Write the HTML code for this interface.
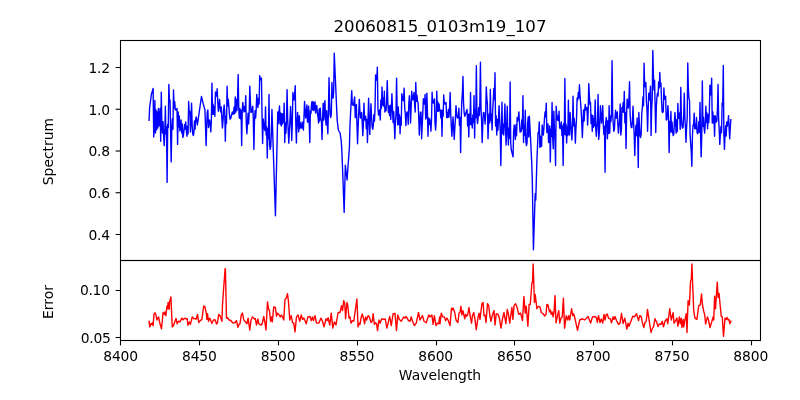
<!DOCTYPE html><html><head><meta charset="utf-8"><title>20060815_0103m19_107</title>
<style>html,body{margin:0;padding:0;background:#fff}svg{display:block}text{font-family:"DejaVu Sans","Liberation Sans",sans-serif;fill:#000}</style></head><body>
<svg width="800" height="400" viewBox="0 0 800 400">
<rect width="800" height="400" fill="#fff"/>
<defs><clipPath id="c1"><rect x="120" y="40" width="640" height="220"/></clipPath><clipPath id="c2"><rect x="120" y="260" width="640" height="80"/></clipPath></defs>
<polyline clip-path="url(#c1)" fill="none" stroke="#0000ff" stroke-width="1.39" stroke-linejoin="round" stroke-linecap="butt" points="149.05,121.00 149.63,107.50 150.21,103.13 150.80,98.77 151.38,94.40 151.96,92.43 152.54,90.47 153.13,88.50 153.71,136.90 154.29,126.58 154.87,100.50 155.46,133.00 156.04,110.00 156.62,130.00 157.20,112.00 157.79,128.00 158.37,108.50 158.95,126.00 159.53,118.17 160.12,108.50 160.70,141.25 161.28,92.25 161.86,124.22 162.45,133.05 163.03,121.59 163.61,135.66 164.19,145.60 164.77,132.95 165.36,106.25 165.94,134.05 166.52,127.02 167.10,182.40 167.69,124.12 168.27,127.62 168.85,84.40 169.43,100.03 170.02,100.00 170.60,130.72 171.18,161.90 171.76,129.20 172.35,118.65 172.93,129.38 173.51,90.00 174.09,108.09 174.68,101.59 175.26,109.73 175.84,110.00 176.42,109.25 177.01,108.50 177.59,144.40 178.17,112.00 178.75,127.00 179.33,116.00 179.92,131.00 180.50,126.66 181.08,120.00 181.66,133.00 182.25,124.00 182.83,137.50 183.41,135.80 183.99,130.12 184.58,124.40 185.16,129.00 185.74,122.00 186.32,130.29 186.91,136.25 187.49,126.30 188.07,133.92 188.65,101.50 189.24,111.84 189.82,111.25 190.40,132.00 190.98,122.13 191.57,103.10 192.15,124.93 192.73,133.83 193.31,135.60 193.89,132.69 194.48,120.88 195.06,129.26 195.64,119.17 196.22,116.90 196.81,120.95 197.39,125.00 197.97,120.93 198.55,116.86 199.14,112.79 199.72,108.71 200.30,104.64 200.88,100.57 201.47,96.50 202.05,98.92 202.63,101.33 203.21,103.75 203.80,105.83 204.38,107.92 204.96,110.00 205.54,127.80 206.13,145.60 206.71,125.07 207.29,112.00 207.87,110.00 208.45,127.50 209.04,123.75 209.62,120.00 210.20,124.62 210.78,131.90 211.37,120.70 211.95,83.10 212.53,114.37 213.11,104.21 213.70,114.20 214.28,106.67 214.86,116.25 215.44,91.90 216.03,93.95 216.61,96.00 217.19,88.75 217.77,102.40 218.36,111.25 218.94,106.46 219.52,99.40 220.10,107.36 220.69,112.00 221.27,106.90 221.85,118.48 222.43,128.00 223.01,120.93 223.60,109.94 224.18,105.00 224.76,112.94 225.34,141.25 225.93,116.28 226.51,123.58 227.09,86.25 227.67,106.02 228.26,99.38 228.84,106.25 229.42,114.13 230.00,119.07 230.59,118.75 231.17,116.47 231.75,114.18 232.33,111.90 232.92,114.40 233.50,113.62 234.08,107.28 234.66,113.79 235.25,96.90 235.83,112.00 236.41,99.46 236.99,110.42 237.57,98.03 238.16,74.40 238.74,108.37 239.32,117.98 239.90,108.50 240.49,118.84 241.07,110.17 241.65,145.60 242.23,111.25 242.82,102.50 243.40,108.20 243.98,112.00 244.56,106.79 245.15,111.19 245.73,95.60 246.31,124.22 246.89,133.75 247.48,123.36 248.06,113.20 248.64,123.83 249.22,111.83 249.81,86.25 250.39,101.71 250.97,112.50 251.55,112.00 252.13,109.12 252.72,106.25 253.30,118.48 253.88,149.40 254.46,121.46 255.05,110.60 255.63,118.00 256.21,109.08 256.79,94.40 257.38,102.95 257.96,107.50 258.54,98.32 259.12,104.04 259.71,75.60 260.29,80.00 260.87,79.05 261.45,78.10 262.04,114.98 262.62,143.50 263.20,119.00 263.78,123.56 264.37,128.50 264.95,130.47 265.53,106.90 266.11,135.09 266.69,126.73 267.28,158.10 267.86,128.66 268.44,138.66 269.02,94.40 269.61,145.09 270.19,149.40 270.77,146.53 271.35,133.36 271.94,109.40 272.52,127.13 273.10,144.87 273.68,162.60 274.27,180.33 274.85,198.07 275.43,215.80 276.01,189.83 276.60,163.85 277.18,137.88 277.76,111.90 278.34,123.50 278.93,113.00 279.51,106.00 280.09,124.00 280.67,113.00 281.25,126.00 281.84,113.75 282.42,124.00 283.00,114.00 283.58,122.00 284.17,103.10 284.75,142.50 285.33,122.88 285.91,133.19 286.50,120.17 287.08,89.60 287.66,118.59 288.24,131.49 288.83,143.10 289.41,130.50 289.99,119.84 290.57,106.50 291.16,119.70 291.74,140.60 292.32,122.54 292.90,92.50 293.49,96.25 294.07,100.00 294.65,94.89 295.23,85.60 295.81,124.15 296.40,143.10 296.98,123.04 297.56,112.50 298.14,122.30 298.73,131.90 299.31,115.60 299.89,128.66 300.47,122.82 301.06,127.46 301.64,128.00 302.22,122.00 302.80,126.74 303.39,130.00 303.97,117.60 304.55,101.50 305.13,110.38 305.72,118.00 306.30,112.70 306.88,105.00 307.46,122.00 308.05,122.03 308.63,106.25 309.21,123.09 309.79,142.50 310.37,111.00 310.96,113.50 311.54,104.00 312.12,101.50 312.70,110.00 313.29,102.00 313.87,110.50 314.45,102.50 315.03,101.90 315.62,113.00 316.20,106.00 316.78,105.60 317.36,113.00 317.95,116.00 318.53,123.00 319.11,109.00 319.69,121.00 320.28,108.10 320.86,119.43 321.44,120.00 322.02,139.40 322.61,118.00 323.19,103.10 323.77,120.00 324.35,108.00 324.93,100.60 325.52,119.00 326.10,125.00 326.68,110.60 327.26,122.00 327.85,133.75 328.43,111.16 329.01,77.75 329.59,102.50 330.18,115.54 330.76,117.50 331.34,113.74 331.92,82.50 332.51,97.92 333.09,98.00 333.67,92.07 334.25,53.30 334.84,66.64 335.42,79.98 336.00,93.32 336.58,106.66 337.17,120.00 337.75,125.00 338.33,130.00 338.91,131.00 339.49,132.00 340.08,133.00 340.66,137.00 341.24,141.00 341.82,150.00 342.41,165.00 342.99,180.00 343.57,196.20 344.15,212.40 344.74,188.80 345.32,165.20 345.90,170.13 346.48,175.07 347.07,180.00 347.65,171.75 348.23,163.50 348.81,155.50 349.40,147.50 349.98,125.00 350.56,113.53 351.14,102.07 351.73,90.60 352.31,104.39 352.89,105.00 353.47,105.53 354.05,101.35 354.64,96.90 355.22,117.50 355.80,117.58 356.38,104.40 356.97,124.32 357.55,143.75 358.13,126.47 358.71,114.32 359.30,99.40 359.88,110.59 360.46,118.00 361.04,115.25 361.63,112.50 362.21,122.06 362.79,135.60 363.37,124.03 363.96,103.10 364.54,120.00 365.12,118.12 365.70,116.25 366.29,128.80 366.87,119.52 367.45,142.50 368.03,120.82 368.61,98.10 369.20,119.35 369.78,134.40 370.36,117.49 370.94,103.75 371.53,116.66 372.11,126.83 372.69,129.40 373.27,125.98 373.86,114.59 374.44,121.29 375.02,109.25 375.60,75.00 376.19,77.50 376.77,80.00 377.35,67.30 377.93,108.00 378.52,115.00 379.10,112.50 379.68,110.00 380.26,120.00 380.85,100.03 381.43,108.35 382.01,86.90 382.59,104.99 383.17,97.90 383.76,106.25 384.34,91.25 384.92,111.98 385.50,110.60 386.09,110.85 386.67,99.89 387.25,80.60 387.83,102.69 388.42,112.43 389.00,106.26 389.58,115.44 390.16,105.20 390.75,119.50 391.33,109.21 391.91,93.75 392.49,108.51 393.08,122.51 393.66,111.64 394.24,123.77 394.82,138.75 395.41,122.68 395.99,114.21 396.57,78.10 397.15,109.34 397.73,125.00 398.32,107.00 398.90,124.23 399.48,114.66 400.06,133.75 400.65,117.42 401.23,125.26 401.81,93.75 402.39,96.88 402.98,100.00 403.56,100.83 404.14,88.10 404.72,108.75 405.31,113.40 405.89,125.60 406.47,114.95 407.05,112.00 407.64,112.51 408.22,124.40 408.80,103.96 409.38,95.60 409.97,103.89 410.55,123.00 411.13,107.92 411.71,91.25 412.29,96.76 412.88,100.00 413.46,96.25 414.04,92.50 414.62,104.25 415.21,112.00 415.79,82.50 416.37,101.32 416.95,95.18 417.54,101.25 418.12,103.41 418.70,115.71 419.28,135.00 419.87,122.82 420.45,112.48 421.03,111.90 421.61,138.75 422.20,125.77 422.78,113.74 423.36,98.75 423.94,104.00 424.53,103.82 425.11,94.40 425.69,119.05 426.27,117.00 426.85,93.10 427.44,112.91 428.02,136.25 428.60,118.00 429.18,124.43 429.77,119.00 430.35,123.04 430.93,131.25 431.51,119.62 432.10,92.25 432.68,102.73 433.26,103.00 433.84,101.00 434.43,99.00 435.01,122.97 435.59,130.00 436.17,120.93 436.76,91.25 437.34,111.30 437.92,102.05 438.50,111.30 439.09,104.00 439.67,110.62 440.25,110.00 440.83,117.96 441.41,110.11 442.00,136.25 442.58,110.52 443.16,116.12 443.74,95.00 444.33,103.40 444.91,104.00 445.49,103.25 446.07,102.50 446.66,117.55 447.24,112.70 447.82,117.50 448.40,109.43 448.99,117.13 449.57,107.11 450.15,92.50 450.73,114.03 451.32,126.96 451.90,136.25 452.48,125.44 453.06,116.90 453.65,128.51 454.23,139.40 454.81,128.26 455.39,119.53 455.97,105.60 456.56,112.08 457.14,117.52 457.72,118.00 458.30,117.61 458.89,108.10 459.47,125.42 460.05,117.55 460.63,152.50 461.22,119.06 461.80,101.25 462.38,93.37 462.96,76.50 463.55,103.06 464.13,112.28 464.71,116.25 465.29,114.54 465.88,112.83 466.46,111.11 467.04,109.40 467.62,125.93 468.21,114.13 468.79,136.90 469.37,114.29 469.95,124.24 470.53,92.50 471.12,124.73 471.70,118.38 472.28,128.00 472.86,114.89 473.45,122.37 474.03,95.60 474.61,138.10 475.19,110.09 475.78,117.76 476.36,65.70 476.94,115.70 477.52,123.50 478.11,118.36 478.69,107.63 479.27,115.46 479.85,103.61 480.44,62.20 481.02,109.91 481.60,120.09 482.18,142.50 482.77,124.65 483.35,112.92 483.93,112.50 484.51,116.47 485.09,124.00 485.68,113.60 486.26,86.90 486.84,97.49 487.42,104.40 488.01,138.75 488.59,122.68 489.17,113.86 489.75,122.72 490.34,89.40 490.92,120.26 491.50,114.16 492.08,130.00 492.67,110.20 493.25,100.60 493.83,88.52 494.41,99.48 495.00,72.75 495.58,125.99 496.16,115.64 496.74,135.00 497.33,119.32 497.91,130.32 498.49,119.98 499.07,105.60 499.65,118.32 500.24,131.08 500.82,165.60 501.40,135.44 501.98,102.25 502.57,133.65 503.15,124.21 503.73,135.00 504.31,123.18 504.90,104.00 505.48,125.50 506.06,145.00 506.64,130.03 507.23,106.25 507.81,132.57 508.39,145.00 508.97,127.95 509.56,138.34 510.14,81.90 510.72,143.03 511.30,150.00 511.89,152.30 512.47,154.60 513.05,156.90 513.63,131.57 514.21,125.00 514.80,131.88 515.38,139.40 515.96,124.90 516.54,135.74 517.13,117.50 517.71,121.00 518.29,117.99 518.87,111.90 519.46,122.66 520.04,132.06 520.62,131.90 521.20,131.25 521.79,119.84 522.37,128.82 522.95,95.60 523.53,142.50 524.12,125.31 524.70,135.32 525.28,110.25 525.86,141.30 526.45,145.60 527.03,143.09 527.61,124.00 528.19,116.90 528.77,137.00 529.36,116.25 529.94,127.12 530.52,138.00 531.10,150.00 531.69,162.00 532.27,178.75 532.85,214.22 533.43,249.70 534.02,231.05 534.60,212.40 535.18,193.75 535.76,200.00 536.35,180.00 536.93,160.00 537.51,146.25 538.09,132.50 538.68,133.15 539.26,122.00 539.84,147.48 540.42,136.14 541.01,146.24 541.59,146.25 542.17,125.00 542.75,130.25 543.33,135.00 543.92,128.01 544.50,118.00 545.08,111.91 545.66,116.92 546.25,103.10 546.83,132.50 547.41,128.61 547.99,124.00 548.58,142.50 549.16,138.20 549.74,126.00 550.32,161.90 550.91,129.19 551.49,136.46 552.07,102.50 552.65,136.73 553.24,148.75 553.82,111.25 554.40,127.88 554.98,139.24 555.57,165.60 556.15,106.25 556.73,113.93 557.31,120.00 557.89,116.07 558.48,120.73 559.06,111.25 559.64,127.61 560.22,128.75 560.81,125.38 561.39,122.00 561.97,135.67 562.55,126.00 563.14,165.60 563.72,123.42 564.30,134.32 564.88,78.50 565.47,134.82 566.05,124.23 566.63,143.10 567.21,126.93 567.80,135.67 568.38,100.25 568.96,133.75 569.54,135.00 570.13,112.50 570.71,122.73 571.29,130.61 571.87,140.00 572.45,128.85 573.04,96.25 573.62,125.72 574.20,118.39 574.78,125.85 575.37,143.10 575.95,128.46 576.53,118.78 577.11,98.10 577.70,100.00 578.28,92.50 578.86,98.00 579.44,84.75 580.03,95.34 580.61,103.10 581.19,111.39 581.77,122.82 582.36,137.50 582.94,123.10 583.52,109.94 584.10,121.07 584.69,110.01 585.27,104.40 585.85,110.00 586.43,108.75 587.01,107.50 587.60,125.00 588.18,111.30 588.76,83.60 589.34,95.28 589.93,104.43 590.51,102.50 591.09,123.66 591.67,114.98 592.26,131.25 592.84,115.45 593.42,127.32 594.00,118.58 594.59,125.79 595.17,100.00 595.75,128.38 596.33,136.25 596.92,127.51 597.50,118.92 598.08,94.40 598.66,139.40 599.25,133.91 599.83,121.92 600.41,105.60 600.99,115.71 601.57,123.00 602.16,114.49 602.74,105.60 603.32,124.71 603.90,134.35 604.49,126.13 605.07,172.20 605.65,123.32 606.23,117.50 606.82,121.35 607.40,138.75 607.98,120.86 608.56,133.58 609.15,105.60 609.73,133.10 610.31,115.99 610.89,121.59 611.48,114.56 612.06,60.70 612.64,113.03 613.22,123.49 613.81,131.25 614.39,129.51 614.97,119.05 615.55,110.25 616.13,118.00 616.72,114.95 617.30,111.90 617.88,124.99 618.46,133.10 619.05,126.18 619.63,119.12 620.21,104.00 620.79,135.00 621.38,129.78 621.96,107.50 622.54,112.00 623.12,102.69 623.71,112.20 624.29,91.50 624.87,122.88 625.45,112.57 626.04,148.50 626.62,113.92 627.20,99.00 627.78,104.12 628.37,108.00 628.95,99.09 629.53,81.70 630.11,113.66 630.69,123.09 631.28,127.50 631.86,127.59 632.44,120.33 633.02,106.25 633.61,122.89 634.19,134.67 634.77,155.60 635.35,136.78 635.94,125.30 636.52,135.68 637.10,118.00 637.68,134.73 638.27,167.50 638.85,112.50 639.43,124.70 640.01,135.44 640.60,137.50 641.18,133.90 641.76,113.75 642.34,107.83 642.93,97.04 643.51,105.74 644.09,63.20 644.67,86.73 645.25,85.00 645.84,82.50 646.42,101.53 647.00,109.72 647.58,131.25 648.17,109.13 648.75,93.10 649.33,100.00 649.91,94.52 650.50,86.25 651.08,135.60 651.66,109.44 652.24,98.10 652.83,50.40 653.41,75.44 653.99,90.00 654.57,80.30 655.16,106.92 655.74,132.50 656.32,107.39 656.90,97.33 657.49,93.10 658.07,96.00 658.65,81.90 659.23,88.00 659.81,72.50 660.40,86.00 660.98,83.10 661.56,101.21 662.14,111.87 662.73,112.50 663.31,111.06 663.89,88.00 664.47,99.18 665.06,99.00 665.64,96.25 666.22,120.00 666.80,119.58 667.39,113.92 667.97,105.60 668.55,118.38 669.13,152.50 669.72,121.40 670.30,132.01 670.88,111.50 671.46,131.96 672.05,122.00 672.63,131.92 673.21,135.60 673.79,134.21 674.37,122.91 674.96,112.50 675.54,122.29 676.12,133.10 676.70,119.71 677.29,131.49 677.87,103.50 678.45,118.27 679.03,118.00 679.62,113.00 680.20,129.40 680.78,87.50 681.36,115.40 681.95,125.89 682.53,128.10 683.11,126.90 683.69,115.28 684.28,93.10 684.86,117.03 685.44,127.92 686.02,142.25 686.61,126.92 687.19,118.45 687.77,63.00 688.35,88.70 688.93,98.69 689.52,100.00 690.10,135.04 690.68,143.75 691.26,151.59 691.85,166.25 692.43,136.17 693.01,125.00 693.59,125.64 694.18,113.10 694.76,128.75 695.34,124.58 695.92,128.72 696.51,117.50 697.09,132.63 697.67,133.75 698.25,131.67 698.84,121.78 699.42,132.22 700.00,102.50 700.58,134.73 701.17,156.90 701.75,135.48 702.33,81.00 702.91,126.24 703.49,117.27 704.08,128.11 704.66,133.10 705.24,124.52 705.82,106.25 706.41,122.38 706.99,112.98 707.57,128.75 708.15,114.69 708.74,122.76 709.32,113.57 709.90,85.25 710.48,90.19 711.07,95.00 711.65,78.10 712.23,123.03 712.81,111.93 713.40,122.96 713.98,115.85 714.56,136.25 715.14,115.60 715.73,118.80 716.31,122.00 716.89,120.87 717.47,108.10 718.05,84.40 718.64,119.16 719.22,129.78 719.80,144.40 720.38,134.02 720.97,126.43 721.55,132.85 722.13,103.10 722.71,105.00 723.30,65.40 723.88,134.89 724.46,149.40 725.04,134.72 725.63,125.68 726.21,135.95 726.79,122.00 727.37,126.00 727.96,122.47 728.54,115.60 729.12,128.53 729.70,138.75 730.29,127.92 730.87,119.00"/>
<polyline clip-path="url(#c2)" fill="none" stroke="#ff0000" stroke-width="1.39" stroke-linejoin="round" stroke-linecap="butt" points="149.00,320.60 149.75,326.90 151.00,323.50 151.90,324.40 152.50,322.75 153.10,325.60 154.00,314.40 155.00,312.75 156.00,315.00 156.90,320.00 158.50,316.90 159.40,321.25 160.00,323.75 161.50,328.75 163.10,312.50 164.40,314.40 165.00,311.90 165.90,315.60 166.90,306.25 167.50,308.75 168.10,302.50 169.10,309.40 169.60,301.90 170.90,296.90 172.25,326.90 173.50,325.60 176.00,318.50 177.25,323.75 178.50,321.25 180.00,321.90 181.90,318.10 183.10,319.75 185.00,318.10 186.25,319.00 187.25,318.75 187.90,325.25 189.40,321.90 190.40,324.40 192.25,316.90 193.75,318.50 196.25,319.00 197.50,314.40 198.75,322.50 200.25,320.60 201.90,319.40 203.75,306.00 205.00,306.90 206.25,313.10 206.90,319.40 207.50,313.75 208.50,321.25 209.75,318.10 211.90,323.50 213.50,320.00 215.00,319.75 216.50,324.00 217.50,322.50 218.75,314.40 220.00,315.60 221.90,321.25 222.50,305.00 223.10,296.00 225.10,268.80 225.40,268.80 226.50,318.10 227.50,317.75 229.00,320.00 230.60,320.25 232.50,322.75 235.00,322.75 236.50,320.60 237.90,327.25 239.40,323.75 240.00,323.75 241.25,315.00 242.50,313.10 243.75,320.00 245.60,321.90 246.90,323.75 248.10,318.10 249.75,330.00 251.00,320.00 252.50,316.90 254.40,319.00 255.25,318.50 256.50,325.00 257.90,319.00 258.75,323.75 260.00,324.40 261.25,325.00 262.25,323.50 263.75,316.50 265.00,323.10 266.00,330.00 267.50,301.90 268.50,308.75 269.40,310.00 270.60,321.25 271.25,316.90 272.25,321.90 273.75,306.90 275.40,307.50 276.50,316.25 277.25,313.10 278.75,314.40 280.25,316.90 281.50,315.00 282.50,316.90 283.75,320.00 285.00,299.40 286.25,298.10 287.50,293.75 288.50,301.90 289.75,320.00 291.25,315.60 292.50,322.50 293.75,323.10 295.00,331.90 296.50,316.90 298.10,315.00 299.75,321.25 301.25,315.00 302.50,319.40 303.75,318.10 304.75,320.00 306.25,323.75 307.90,316.90 310.00,316.50 311.25,320.60 312.50,316.90 313.40,320.60 315.00,315.60 316.50,323.10 318.75,323.10 321.00,318.10 322.50,321.25 324.00,326.90 326.00,318.75 327.10,320.60 328.10,317.75 329.75,325.00 331.25,313.10 332.75,328.10 334.40,321.90 336.00,325.00 338.10,312.50 340.00,312.50 341.50,305.60 342.50,310.60 343.75,300.60 344.75,303.75 345.60,318.75 346.90,302.50 347.75,305.00 349.00,318.10 350.00,316.90 351.00,323.10 352.50,320.60 353.75,321.25 355.00,312.50 356.90,299.00 358.10,326.90 359.40,323.10 360.00,324.40 361.25,316.90 362.25,314.00 363.75,319.40 364.60,323.75 365.60,316.90 366.60,320.00 368.10,315.60 369.40,316.90 371.00,322.50 372.25,321.25 373.10,313.75 374.40,324.40 375.60,322.75 376.60,323.75 377.50,330.60 379.00,320.00 380.00,323.10 381.90,318.75 383.75,319.40 385.25,319.00 386.90,328.10 388.10,323.10 389.75,316.50 391.25,325.60 393.10,313.75 395.00,313.50 396.50,330.60 397.75,315.00 399.40,319.40 401.25,321.25 403.75,316.90 405.00,318.10 406.25,316.50 408.50,320.60 410.00,321.25 411.25,316.90 412.50,321.25 414.40,325.60 416.25,323.10 418.50,312.50 420.00,320.00 422.50,315.60 424.00,321.25 426.25,322.75 428.75,315.00 430.00,316.90 431.90,315.00 433.10,324.40 434.40,315.60 436.00,325.60 437.50,323.10 438.75,323.75 439.60,317.00 440.00,323.75 441.25,313.10 442.75,316.90 444.40,316.90 445.60,320.60 446.90,318.10 448.10,320.00 450.00,325.60 451.50,308.10 452.50,310.00 453.10,308.10 454.75,312.50 456.00,320.00 457.90,322.50 459.00,313.10 460.00,312.50 460.90,306.25 461.90,315.00 462.90,310.60 464.75,318.75 465.60,314.40 466.90,316.25 467.75,314.40 469.00,307.50 470.00,315.00 471.50,323.10 472.50,315.60 473.75,312.50 475.00,319.40 476.25,329.75 478.10,316.90 479.10,313.10 480.00,319.40 481.90,303.75 483.10,302.50 484.00,315.60 485.00,315.00 486.00,322.50 487.50,303.75 488.75,305.60 489.75,315.00 491.00,321.25 492.25,315.60 494.00,310.60 495.00,325.00 496.25,313.75 498.10,314.40 499.40,318.10 501.00,328.10 502.50,318.75 504.00,312.50 505.90,323.75 507.25,309.40 508.50,314.40 509.75,323.10 511.90,307.50 512.90,319.40 514.00,305.60 515.60,303.75 516.90,306.90 518.75,314.40 520.60,313.10 522.50,320.60 523.90,296.50 525.25,313.10 526.25,306.25 527.90,326.25 529.10,304.50 530.25,304.50 531.90,283.00 532.55,282.00 533.15,264.00 533.75,281.00 534.40,302.50 535.25,294.60 536.90,308.75 538.50,306.25 540.00,307.00 541.25,312.50 543.10,313.75 544.75,316.00 546.00,314.40 546.90,304.40 548.10,305.00 549.40,311.90 550.40,310.00 551.25,314.40 552.10,311.90 553.10,316.90 554.00,312.50 555.00,295.60 556.00,322.75 557.25,316.90 558.75,310.60 559.75,323.10 561.00,318.10 562.25,316.90 563.40,298.10 564.60,328.10 566.25,315.60 567.75,320.00 568.75,315.60 569.75,320.00 571.60,308.75 572.75,315.60 573.75,313.75 575.00,318.75 576.25,324.40 577.50,330.25 579.75,320.00 582.50,318.75 584.40,320.00 586.25,318.50 588.10,316.50 590.60,323.10 592.50,316.90 595.00,316.50 596.50,318.10 597.25,322.25 598.50,315.60 600.00,322.50 601.25,319.00 602.75,323.10 604.00,314.40 605.00,320.00 606.00,315.00 607.25,314.00 608.50,318.10 610.25,318.75 611.50,322.75 613.10,316.90 614.00,319.40 615.00,316.50 616.50,320.60 618.50,324.40 620.00,323.10 621.50,313.50 623.10,323.50 624.75,318.10 626.90,329.00 628.10,323.10 629.00,326.25 630.60,321.90 632.75,316.25 634.40,316.90 636.50,313.75 638.50,320.60 639.75,315.60 641.25,316.90 642.25,321.90 643.75,327.50 645.00,322.50 646.25,321.25 647.50,309.40 649.00,319.40 651.00,332.50 652.50,328.10 653.50,326.90 655.00,318.75 656.90,322.75 658.10,326.50 659.40,324.00 661.00,324.40 662.25,321.25 663.50,326.90 665.00,321.25 666.90,318.75 667.75,323.75 669.75,308.75 671.25,320.00 673.10,312.75 674.00,323.10 675.60,320.60 676.90,318.10 677.90,326.25 679.40,316.90 680.25,323.75 681.25,318.10 681.90,327.50 683.10,319.40 683.75,326.90 685.00,319.40 686.25,313.75 687.00,332.50 688.10,300.60 689.40,305.00 690.60,280.60 691.30,279.50 691.90,264.00 692.50,280.00 693.75,311.25 695.00,318.10 696.90,319.40 698.75,305.60 700.25,305.00 701.50,294.00 702.50,305.00 703.75,311.25 704.75,315.00 705.60,324.00 707.50,316.90 708.50,320.00 710.00,327.50 711.90,321.25 713.10,316.90 713.75,320.00 714.60,296.25 715.50,308.75 717.25,282.10 718.10,297.50 719.10,293.50 720.00,303.75 721.25,316.25 722.25,316.90 723.50,336.25 725.00,318.10 726.25,319.40 727.10,317.50 728.10,320.00 729.00,319.40 729.75,323.75 731.25,320.60"/>
<g fill="none" stroke="#000" stroke-width="1.1" shape-rendering="auto">
<rect x="120.5" y="40.5" width="640" height="220"/>
<rect x="120.5" y="260.5" width="640" height="80"/>
</g>
<g stroke="#000" stroke-width="1.1">
<line x1="120.50" y1="340.5" x2="120.50" y2="345.4"/>
<line x1="199.50" y1="340.5" x2="199.50" y2="345.4"/>
<line x1="278.50" y1="340.5" x2="278.50" y2="345.4"/>
<line x1="357.50" y1="340.5" x2="357.50" y2="345.4"/>
<line x1="436.50" y1="340.5" x2="436.50" y2="345.4"/>
<line x1="514.50" y1="340.5" x2="514.50" y2="345.4"/>
<line x1="593.50" y1="340.5" x2="593.50" y2="345.4"/>
<line x1="672.50" y1="340.5" x2="672.50" y2="345.4"/>
<line x1="751.50" y1="340.5" x2="751.50" y2="345.4"/>
<line x1="115.6" y1="67.50" x2="120.5" y2="67.50"/>
<line x1="115.6" y1="109.25" x2="120.5" y2="109.25"/>
<line x1="115.6" y1="151.00" x2="120.5" y2="151.00"/>
<line x1="115.6" y1="192.75" x2="120.5" y2="192.75"/>
<line x1="115.6" y1="234.50" x2="120.5" y2="234.50"/>
<line x1="115.6" y1="290.50" x2="120.5" y2="290.50"/>
<line x1="115.6" y1="337.50" x2="120.5" y2="337.50"/>
</g>
<g font-size="13.89px">
<text x="120.60" y="360.8" text-anchor="middle" letter-spacing="-0.15">8400</text>
<text x="199.36" y="360.8" text-anchor="middle" letter-spacing="-0.15">8450</text>
<text x="278.13" y="360.8" text-anchor="middle" letter-spacing="-0.15">8500</text>
<text x="356.90" y="360.8" text-anchor="middle" letter-spacing="-0.15">8550</text>
<text x="435.66" y="360.8" text-anchor="middle" letter-spacing="-0.15">8600</text>
<text x="514.43" y="360.8" text-anchor="middle" letter-spacing="-0.15">8650</text>
<text x="593.19" y="360.8" text-anchor="middle" letter-spacing="-0.15">8700</text>
<text x="671.96" y="360.8" text-anchor="middle" letter-spacing="-0.15">8750</text>
<text x="750.72" y="360.8" text-anchor="middle" letter-spacing="-0.15">8800</text>
<text x="109.70" y="72.80" text-anchor="end" letter-spacing="-0.28">1.2</text>
<text x="109.70" y="114.55" text-anchor="end" letter-spacing="-0.28">1.0</text>
<text x="109.70" y="156.30" text-anchor="end" letter-spacing="-0.28">0.8</text>
<text x="109.70" y="198.05" text-anchor="end" letter-spacing="-0.28">0.6</text>
<text x="109.70" y="239.80" text-anchor="end" letter-spacing="-0.28">0.4</text>
<text x="109.70" y="295.30" text-anchor="end" letter-spacing="-0.28">0.10</text>
<text x="110.50" y="342.50" text-anchor="end" letter-spacing="-0.28">0.05</text>
<text x="440" y="380.0" text-anchor="middle">Wavelength</text>
<text transform="translate(52.5,151.6) rotate(-90)" text-anchor="middle">Spectrum</text>
<text transform="translate(52.5,302) rotate(-90)" text-anchor="middle">Error</text>
</g>
<text x="440" y="31.7" text-anchor="middle" font-size="16.67px">20060815_0103m19_107</text>
</svg></body></html>
